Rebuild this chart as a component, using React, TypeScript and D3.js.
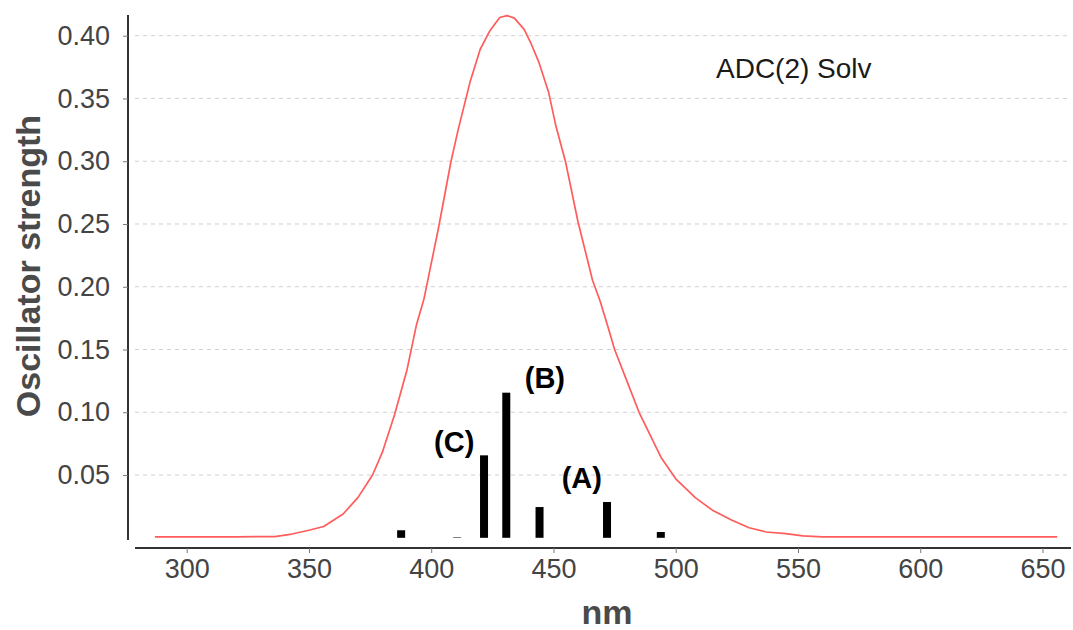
import React, { useEffect, useRef } from "react";
import * as d3 from "d3";

// broadened spectrum (nm, oscillator strength)
const curveNm = [
  287, 300, 320, 336, 343, 350, 356, 364, 370, 376, 380, 385, 390, 394, 397,
  403, 408, 411, 416, 420, 424, 428, 431, 434, 438, 441, 444, 448, 451, 455,
  460, 466, 469, 472, 475, 480, 485, 490, 494, 500, 508, 515, 523, 530, 537,
  545, 552, 560, 600, 656,
];
const curveF = [
  0.0008, 0.0008, 0.0008, 0.001, 0.003, 0.006, 0.009, 0.019, 0.032, 0.05,
  0.068, 0.098, 0.133, 0.17, 0.19, 0.247, 0.299, 0.325, 0.364, 0.389, 0.404,
  0.4145, 0.416, 0.414, 0.405, 0.393, 0.379, 0.355, 0.328, 0.299, 0.252,
  0.205, 0.189, 0.17, 0.15, 0.125, 0.1, 0.08, 0.064, 0.047, 0.032, 0.022,
  0.014, 0.008, 0.0046, 0.0033, 0.0015, 0.0008, 0.0008, 0.0008,
];

// stick spectrum (individual transitions)
const stickNm = [387.7, 410.6, 421.6, 430.7, 444.3, 471.9, 493.9];
const stickF = [0.006, 0.0004, 0.0657, 0.1156, 0.0245, 0.0285, 0.0046];

// state labels placed in data coordinates
const labelText = ["(C)", "(B)", "(A)"];
const labelNm = [409.4, 446.5, 461.6];
const labelF = [0.0763, 0.127, 0.0476];

const xTicks = [300, 350, 400, 450, 500, 550, 600, 650];
const yTicks = [0.05, 0.1, 0.15, 0.2, 0.25, 0.3, 0.35, 0.4];

const App = () => {
  const ref = useRef<SVGSVGElement>(null);

  useEffect(() => {
    const svg = d3.select(ref.current);
    svg.selectAll("*").remove();

    const plotLeft = 135,
      plotRight = 1071;

    const x = d3.scaleLinear().domain([300, 650]).range([186.7, 1042.5]);
    const y = d3.scaleLinear().domain([0, 0.4]).range([537.8, 35.7]);

    const font = "'Liberation Sans', Arial, sans-serif";

    // dashed grid lines
    svg
      .append("g")
      .selectAll("line")
      .data(yTicks)
      .enter()
      .append("line")
      .attr("x1", plotLeft)
      .attr("x2", plotRight)
      .attr("y1", (d) => y(d))
      .attr("y2", (d) => y(d))
      .attr("stroke", "#cfcfcf")
      .attr("stroke-width", 1)
      .attr("stroke-dasharray", "4,4");

    // Y axis
    const yAxis = svg.append("g").attr("transform", "translate(128,0)");
    yAxis
      .append("line")
      .attr("x1", 0)
      .attr("x2", 0)
      .attr("y1", 15)
      .attr("y2", 540)
      .attr("stroke", "#333")
      .attr("stroke-width", 2);
    yAxis
      .call(
        d3
          .axisLeft(y)
          .tickValues(yTicks)
          .tickFormat(d3.format(".2f"))
          .tickSize(5)
          .tickPadding(13)
      )
      .call((g) => g.select(".domain").remove())
      .call((g) => g.selectAll(".tick line").attr("stroke", "#777"))
      .call((g) =>
        g
          .selectAll(".tick text")
          .attr("fill", "#444")
          .style("font-family", font)
          .style("font-size", "27px")
      );

    // X axis
    const xAxis = svg.append("g").attr("transform", "translate(0,548)");
    xAxis
      .append("line")
      .attr("x1", plotLeft)
      .attr("x2", plotRight)
      .attr("y1", 0)
      .attr("y2", 0)
      .attr("stroke", "#333")
      .attr("stroke-width", 2);
    xAxis
      .call(d3.axisBottom(x).tickValues(xTicks).tickSize(5).tickPadding(6))
      .call((g) => g.select(".domain").remove())
      .call((g) => g.selectAll(".tick line").attr("stroke", "#777"))
      .call((g) =>
        g
          .selectAll(".tick text")
          .attr("fill", "#444")
          .style("font-family", font)
          .style("font-size", "27px")
      );

    // axis titles
    svg
      .append("text")
      .attr("transform", "translate(40,266)rotate(-90)")
      .attr("text-anchor", "middle")
      .attr("fill", "#4a4a4a")
      .style("font-family", font)
      .style("font-weight", "bold")
      .style("font-size", "34px")
      .text("Oscillator strength");

    svg
      .append("text")
      .attr("x", (plotLeft + plotRight) / 2 + 4)
      .attr("y", 624)
      .attr("text-anchor", "middle")
      .attr("fill", "#4a4a4a")
      .style("font-family", font)
      .style("font-weight", "bold")
      .style("font-size", "34px")
      .text("nm");

    // broadened curve (polyline, like the original)
    const pts: [number, number][] = curveNm.map((d, i) => [d, curveF[i]]);
    const line = d3
      .line<[number, number]>()
      .x((d) => x(d[0]))
      .y((d) => y(d[1]));
    svg
      .append("path")
      .datum(pts)
      .attr("d", line)
      .attr("fill", "none")
      .attr("stroke", "#ff5c5c")
      .attr("stroke-width", 1.7)
      .attr("stroke-linejoin", "round");

    // sticks
    svg
      .selectAll(".stick")
      .data(stickNm)
      .enter()
      .append("rect")
      .attr("class", "stick")
      .attr("x", (d) => x(d) - 4)
      .attr("y", (d, i) => y(stickF[i]))
      .attr("width", 8)
      .attr("height", (d, i) => y(0) - y(stickF[i]))
      .attr("fill", "#000");

    // state labels
    svg
      .selectAll(".state-label")
      .data(labelText)
      .enter()
      .append("text")
      .attr("class", "state-label")
      .attr("x", (d, i) => x(labelNm[i]))
      .attr("y", (d, i) => y(labelF[i]) + 10)
      .attr("text-anchor", "middle")
      .attr("fill", "#000")
      .style("font-family", font)
      .style("font-weight", "bold")
      .style("font-size", "29px")
      .text((d) => d);

    // series title
    svg
      .append("text")
      .attr("x", 716)
      .attr("y", 78)
      .attr("fill", "#1a1a1a")
      .style("font-family", font)
      .style("font-size", "28px")
      .text("ADC(2) Solv");
  }, []);

  return (
    <svg
      ref={ref}
      width={1073}
      height={630}
      style={{ position: "absolute", left: 0, top: 0, background: "#fff" }}
    ></svg>
  );
};

export default App;
